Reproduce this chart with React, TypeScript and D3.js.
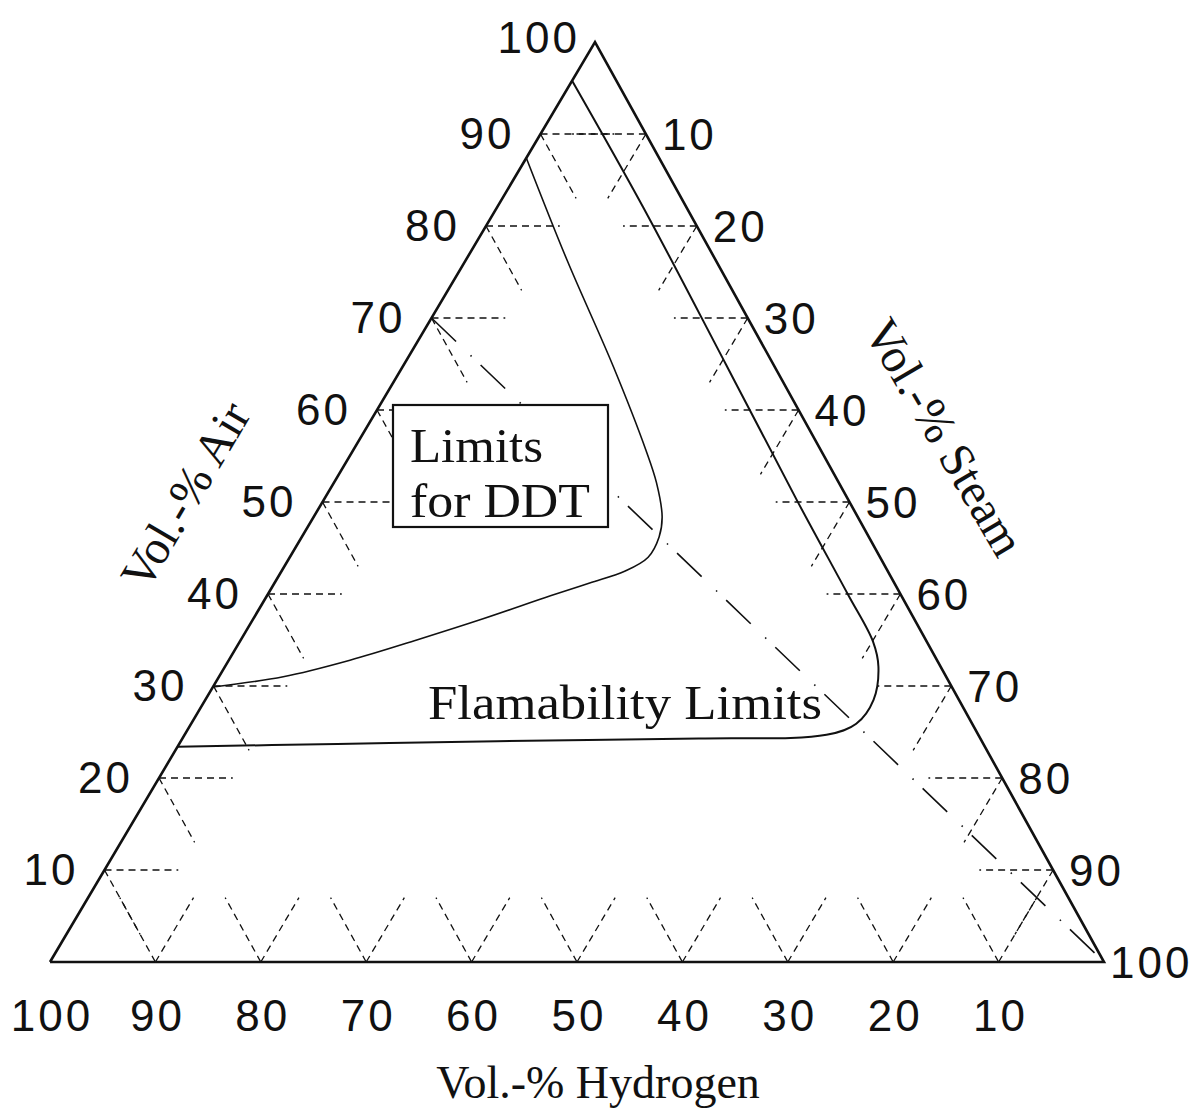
import React from "react";
import * as d3 from "d3";

// ternary values: air + steam (+ hydrogen = rest)
const tickValues = [10, 20, 30, 40, 50, 60, 70, 80, 90];
const bottomLabels = ["100", "90", "80", "70", "60", "50", "40", "30", "20", "10"];

// "Limits for DDT" curve (air %, steam %)
const ddtAir = [87.4, 76.3, 64.7, 55.6, 52.1, 48.4, 46.2, 44.0, 42.5, 41.2, 39.8, 37.3, 35.0, 32.8, 31.0, 29.9];
const ddtSteam = [0, 9.6, 20.0, 27.8, 30.6, 33.05, 33.9, 34.0, 32.6, 29.9, 26.9, 21.8, 16.7, 11.5, 6.1, 0];

// "Flamability Limits" curve (air %, steam %)
const flamAir = [95.8, 82.1, 65.0, 50.2, 40.0, 34.8, 32.1, 28.5, 25.9, 24.7, 24.3, 24.0, 23.7, 23.4];
const flamSteam = [0, 13.8, 30.5, 44.9, 55.0, 60.1, 62.0, 63.4, 63.1, 60.9, 49.0, 30.0, 15.0, 0];

// dash-dot line: from 70 % air on the air axis to the steam corner
const dashDotAir = [70, 0];
const dashDotSteam = [0, 100];

const tickLen = 7;

type Pt = { air: number; steam: number };

const toPts = (air: number[], steam: number[]): Pt[] =>
  air.map((a, i) => ({ air: a, steam: steam[i] }));

export default function App() {
  const width = 1198;
  const height = 1110;

  const xScale = d3.scaleLinear().domain([0, 100]).range([50, 1104]);
  const yScale = d3.scaleLinear().domain([0, 100]).range([962, 42]);
  const skew = (595 - 50) / (1104 - 50);

  const px = (p: Pt) => xScale(p.steam + p.air * skew);
  const py = (p: Pt) => yScale(p.air);

  const smooth = d3
    .line<Pt>()
    .x(px)
    .y(py)
    .curve(d3.curveCatmullRom.alpha(0.5));
  const straight = d3.line<Pt>().x(px).y(py);

  const corners: Pt[] = [
    { air: 0, steam: 0 },
    { air: 100, steam: 0 },
    { air: 0, steam: 100 },
    { air: 0, steam: 0 },
  ];

  // short dashed tick segments at every 10 %
  const tickSegs: Pt[][] = [];
  tickValues.forEach((v) => {
    // air axis (left edge)
    tickSegs.push([{ air: v, steam: 0 }, { air: v, steam: tickLen }]);
    tickSegs.push([{ air: v, steam: 0 }, { air: v - tickLen, steam: tickLen }]);
    // steam axis (right edge)
    tickSegs.push([{ air: 100 - v, steam: v }, { air: 100 - v, steam: v - tickLen }]);
    tickSegs.push([{ air: 100 - v, steam: v }, { air: 100 - v - tickLen, steam: v }]);
    // hydrogen axis (bottom)
    tickSegs.push([{ air: 0, steam: 100 - v }, { air: tickLen, steam: 100 - v - tickLen }]);
    tickSegs.push([{ air: 0, steam: 100 - v }, { air: tickLen, steam: 100 - v }]);
  });

  const sans = "'Liberation Sans', Arial, Helvetica, sans-serif";
  const serif = "'Liberation Serif', 'Times New Roman', serif";
  const ink = "#111";

  return (
    <svg
      width={width}
      height={height}
      style={{ position: "absolute", left: 0, top: 0, background: "white" }}
    >
      <rect width={width} height={height} fill="white" />

      {/* tick segments */}
      <g stroke={ink} strokeWidth={1.3} strokeDasharray="7,5" fill="none">
        {tickSegs.map((s, i) => (
          <path key={i} d={straight(s) || ""} />
        ))}
      </g>

      {/* dash-dot line */}
      <path
        d={straight(toPts(dashDotAir, dashDotSteam)) || ""}
        fill="none"
        stroke={ink}
        strokeWidth={1.6}
        strokeDasharray="34,20,1.5,12.5"
      />

      {/* limit curves */}
      <path d={smooth(toPts(ddtAir, ddtSteam)) || ""} fill="none" stroke={ink} strokeWidth={1.6} />
      <path d={smooth(toPts(flamAir, flamSteam)) || ""} fill="none" stroke={ink} strokeWidth={2} />

      {/* triangle */}
      <path d={straight(corners) || ""} fill="none" stroke={ink} strokeWidth={2.6} strokeLinejoin="miter" />

      {/* box */}
      <rect x={393} y={405} width={215} height={122} fill="white" stroke={ink} strokeWidth={2.2} />
      <text x={410} y={462} fontFamily={serif} fontSize={48} fill={ink} textLength={133} lengthAdjust="spacingAndGlyphs">
        Limits
      </text>
      <text x={410} y={517} fontFamily={serif} fontSize={48} fill={ink} textLength={180} lengthAdjust="spacingAndGlyphs">
        for DDT
      </text>

      <text x={428} y={719} fontFamily={serif} fontSize={48} fill={ink} textLength={394} lengthAdjust="spacingAndGlyphs">
        Flamability Limits
      </text>

      {/* air labels (left) */}
      <g fontFamily={sans} fontSize={44} fill={ink} letterSpacing={3}>
        {tickValues.map((v) => (
          <text key={v} x={px({ air: v, steam: 0 }) - 26} y={py({ air: v, steam: 0 }) - 1} textAnchor="end" dominantBaseline="central">
            {v}
          </text>
        ))}
        <text x={580} y={37} textAnchor="end" dominantBaseline="central">
          100
        </text>
      </g>

      {/* steam labels (right) */}
      <g fontFamily={sans} fontSize={44} fill={ink} letterSpacing={3}>
        {tickValues.map((v) => (
          <text key={v} x={px({ air: 100 - v, steam: v }) + 16} y={py({ air: 100 - v, steam: v })} dominantBaseline="central">
            {v}
          </text>
        ))}
        <text x={1110} y={962} dominantBaseline="central">
          100
        </text>
      </g>

      {/* hydrogen labels (bottom) */}
      <g fontFamily={sans} fontSize={44} fill={ink} letterSpacing={3} textAnchor="middle">
        {bottomLabels.map((l, i) => (
          <text key={l} x={px({ air: 0, steam: i * 10 }) + 2} y={1031}>
            {l}
          </text>
        ))}
      </g>

      {/* axis titles */}
      <text
        transform="translate(185,495) rotate(-59.5)"
        fontFamily={serif}
        fontSize={48}
        fill={ink}
        textAnchor="middle"
        dominantBaseline="central"
      >
        Vol.-% Air
      </text>
      <text
        transform="translate(945,437) rotate(59.5)"
        fontFamily={serif}
        fontSize={48}
        fill={ink}
        textAnchor="middle"
        dominantBaseline="central"
      >
        Vol.-% Steam
      </text>
      <text x={598} y={1098} fontFamily={serif} fontSize={46} fill={ink} textAnchor="middle">
        Vol.-% Hydrogen
      </text>
    </svg>
  );
}
